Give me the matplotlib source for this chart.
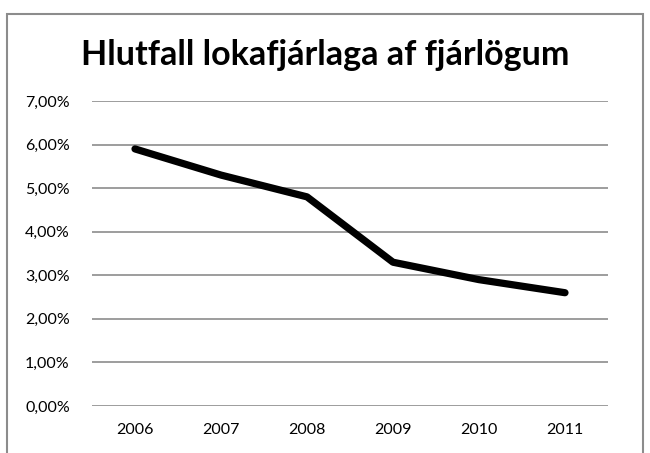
import matplotlib
matplotlib.use("Agg")
import matplotlib.pyplot as plt
from matplotlib.patches import Rectangle
from matplotlib.ticker import FuncFormatter

years = ["2006", "2007", "2008", "2009", "2010", "2011"]
hlutfall = [5.90, 5.30, 4.80, 3.30, 2.90, 2.60]   # %
y_ticks = [0, 1, 2, 3, 4, 5, 6, 7]

plt.rcParams['font.family'] = ['Lato', 'DejaVu Sans']

fig = plt.figure(figsize=(6.5, 4.53), dpi=100)
ax = fig.add_axes([92/650, 1 - 406/453, (608 - 92)/650, (406 - 101)/453])

# chart frame, excel style (bottom edge cut off)
fig.patches.append(Rectangle((7/650, -0.05), (643 - 7)/650, 1.05 - 14/453,
                             transform=fig.transFigure, fill=False,
                             edgecolor="#8c8c8c", linewidth=1.5))

x = range(len(years))
ax.plot(x, hlutfall, color="black", linewidth=5.2, solid_capstyle="round",
        solid_joinstyle="round", zorder=3)

ax.set_xlim(-0.5, len(years) - 0.5)
ax.set_ylim(0, 7)
ax.set_yticks(y_ticks)
ax.yaxis.set_major_formatter(FuncFormatter(lambda v, p: f"{v:.2f}%".replace(".", ",")))
ax.set_xticks(list(x))
ax.set_xticklabels(years)
ax.grid(axis="y", color="#8c8c8c", linewidth=1.2)
ax.set_axisbelow(True)
for s in ax.spines.values():
    s.set_visible(False)
ax.tick_params(length=0, labelsize=11.5, colors="black")
ax.tick_params(axis="y", pad=16)
ax.tick_params(axis="x", pad=12)

fig.text(0.5, 1 - 55/453, "Hlutfall lokafjárlaga af fjárlögum", ha="center",
         va="center", fontsize=24.5, fontweight="bold")

fig.savefig("out.png", dpi=100)
